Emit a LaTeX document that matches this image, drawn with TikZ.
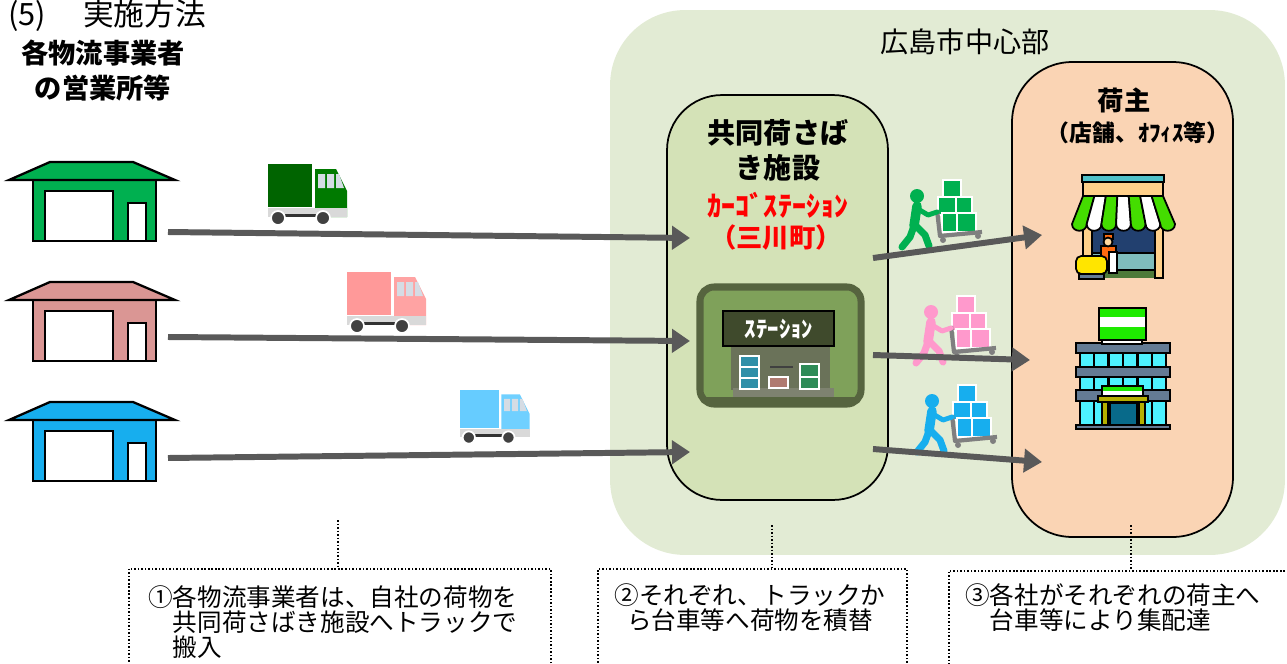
\documentclass[tikz,border=0pt]{standalone}
\usepackage{fontspec}
\setmainfont{Noto Sans CJK JP}
\usetikzlibrary{arrows.meta}
\definecolor{cityfill}{HTML}{E2EBD4}
\definecolor{hubfill}{HTML}{D4E2B7}
\definecolor{ownerfill}{HTML}{FAD4B4}
\definecolor{flowgray}{HTML}{595959}
\definecolor{depotgreen}{HTML}{00B050}
\definecolor{depotpink}{HTML}{DA9694}
\definecolor{depotblue}{HTML}{17AEEE}
\definecolor{lorrygreen}{HTML}{006400}
\definecolor{cabgreen}{HTML}{007A00}
\definecolor{lorrypink}{HTML}{FF9999}
\definecolor{cabpink}{HTML}{FFA3A3}
\definecolor{lorryblue}{HTML}{66CCFF}
\definecolor{cabblue}{HTML}{70D0FF}
\definecolor{lorrywin}{HTML}{D5DCE4}
\definecolor{porterpink}{HTML}{FF99CC}
\definecolor{trolleygray}{HTML}{7F7F7F}
\definecolor{stnedge}{HTML}{56643F}
\definecolor{stnfill}{HTML}{7FA15A}
\definecolor{stnsign}{HTML}{3F4A2C}
\definecolor{stnwall}{HTML}{6A7259}
\definecolor{stnbase}{HTML}{7E8270}
\definecolor{crateblue}{HTML}{2F8FA8}
\definecolor{craterose}{HTML}{B07A70}
\definecolor{crategreen}{HTML}{2E8B57}
\definecolor{shopteal}{HTML}{4FC1C9}
\definecolor{shopcream}{HTML}{FFD08A}
\definecolor{awning}{HTML}{44DD00}
\definecolor{shopnavy}{HTML}{22406F}
\definecolor{shopcounter}{HTML}{7FBDBD}
\definecolor{shopfloor}{HTML}{4E7A3A}
\definecolor{clerk}{HTML}{FF6A10}
\definecolor{skin}{HTML}{FFD8A0}
\definecolor{cartyellow}{HTML}{FFE500}
\definecolor{officeband}{HTML}{647B94}
\definecolor{officeglass}{HTML}{4DF2FF}
\definecolor{signgreen}{HTML}{1EEA00}
\definecolor{doorteal}{HTML}{086A8A}
\definecolor{porcholive}{HTML}{B5B000}

\begin{document}
\begin{tikzpicture}[
    x=0.02cm, y=-0.02cm,
    area/.style={fill=cityfill, rounded corners=1.5cm},
    zone/.style={draw=black, line width=1pt, rounded corners=1.1cm},
    flow/.style={-{Triangle[length=0.36cm, width=0.46cm]}, line width=3.4pt, draw=flowgray},
    memo/.style={draw=black, line width=0.9pt, dash pattern=on 0.9pt off 1.1pt},
    outline/.style={draw=black, line width=1pt},
    heading/.style={font=\fontsize{17.5}{20}\selectfont, inner sep=0pt},
    caption/.style={font=\bfseries\fontsize{15.5}{19.9}\selectfont, align=center},
    note/.style={font=\fontsize{14}{14.2}\selectfont, inner sep=0pt},
    pics/depot/.style={code={
        \draw[outline, line width=1.3pt, fill=#1] (23,18) rectangle (146,79);
        \draw[outline, line width=1.3pt, fill=#1] (-1,18) -- (40,0) -- (123,0) -- (165,18) -- cycle;
        \draw[outline, line width=1.3pt, fill=white] (35,29) rectangle (103,79);
        \draw[outline, line width=1.3pt, fill=white] (118,41) rectangle (136,79);
    }},
    pics/lorry/.style 2 args={code={
        \fill[#1] (0,0) rectangle (44,43);
        \fill[#2] (47,5) -- (68,5) -- (79,27) -- (79,53) -- (47,53) -- cycle;
        \fill[lorrywin] (50,10) rectangle (57,24) (59,10) rectangle (66,24)
            (68,10) -- (71,10) -- (76,24) -- (68,24) -- cycle;
        \fill[black!15] (0,44) rectangle (79,53);
        \fill[black!80] (14,50) rectangle (60,53);
        \draw[white, line width=1pt, fill=black!75] (10,54) circle (7) (55,54) circle (7);
    }},
    pics/porter/.style={code={
        % load on the trolley
        \foreach \xa/\ya/\xb/\yb in {73/10/91/28, 68/27/86/45, 86/27/102/45, 72/43/87/62, 87/43/106/62}
            \draw[white, line width=0.8pt, fill=#1] (\xa,\ya) rectangle (\xb,\yb);
        % trolley
        \draw[trolleygray, line width=2.4pt, line join=round] (67,40) -- (70,66) -- (112,62);
        \fill[trolleygray] (73,70) circle (3) (108,66) circle (3);
        % walker
        \fill[#1] (47,26) circle (7);
        \draw[#1, line width=5.4pt, line cap=round] (47,36) -- (44,56);
        \draw[#1, line width=2.8pt, line cap=round, line join=round] (48,39) -- (58,45) -- (67,42);
        \draw[#1, line width=4pt, line cap=round, line join=round] (44,56) -- (40,67) -- (32,77);
        \draw[#1, line width=4pt, line cap=round, line join=round] (46,56) -- (55,65) -- (59,76);
    }}
]
\useasboundingbox (0,0) rectangle (1287,663);
\clip (0,0) rectangle (1287,663);

% city centre and the two sites in it
\node[area, minimum width=13.5cm, minimum height=10.9cm] (city) at (947.5,282.5) {};
\node[zone, fill=hubfill, minimum width=4.42cm, minimum height=8.1cm] (hub) at (777.5,297.5) {};
\node[zone, fill=ownerfill, rounded corners=1.2cm, minimum width=4.42cm, minimum height=9.5cm] (owner) at (1122.5,299.5) {};

% station building
\draw[stnedge, line width=4pt, fill=stnfill, rounded corners=8pt] (700,287) rectangle (861,404);
\fill[stnwall] (731,337) rectangle (830,390);
\fill[stnbase] (733,388) rectangle (834,397);
\fill[stnedge] (702,397) rectangle (859,403);
\draw[black, line width=0.8pt, fill=stnsign] (723,311) rectangle (834,346);
\node[font=\bfseries\fontsize{13}{14}\selectfont, text=white] (stnlabel) at (779,329) {ｽﾃｰｼｮﾝ};
\foreach \ya in {356,367,378}
    \draw[white, line width=0.8pt, fill=crateblue] (740,\ya) rectangle (759,\ya+11);
\draw[white, line width=0.8pt, fill=craterose] (769,377) rectangle (788,388);
\draw[white, line width=0.8pt, fill=crategreen] (800,364) rectangle (819,377);
\draw[white, line width=0.8pt, fill=crategreen] (800,377) rectangle (819,389);
\draw[black!75, line width=1.5pt] (770,367) -- (793,367);

% shop
\fill[shopnavy] (1092,226) rectangle (1155,253);
\fill[shopcounter] (1092,253) rectangle (1155,270);
\fill[shopfloor] (1092,270) rectangle (1155,278);
\draw[black, line width=1pt] (1092,253) -- (1155,253) (1092,270) -- (1155,270);
\draw[outline, fill=shopcream] (1083,222) rectangle (1092,278);
\draw[outline, fill=shopcream] (1155,222) rectangle (1163,278);
\draw[outline, fill=shopcream] (1083,182) rectangle (1163,196);
\draw[outline, fill=shopteal] (1082,175) rectangle (1164,182);
\foreach \i/\col in {0/awning,1/white,2/awning,3/white,4/awning,5/white,6/awning} {
    \pgfmathsetmacro\tl{1083+\i*80/7}
    \pgfmathsetmacro\tr{1083+(\i+1)*80/7}
    \pgfmathsetmacro\bl{1072+\i*103/7}
    \pgfmathsetmacro\br{1072+(\i+1)*103/7}
    \draw[outline, fill=\col, line join=round] (\tl,196) -- (\bl,224)
        .. controls (\bl,233) and (\br,233) .. (\br,224) -- (\tr,196) -- cycle;
}
\draw[outline, fill=clerk] (1101,246) rectangle (1116,266);
\draw[outline, fill=white] (1109,252) rectangle (1117,273);
\draw[outline, fill=clerk] (1104,234) rectangle (1113,239);
\draw[outline, fill=skin] (1108,242) circle (4.5);
\draw[outline, fill=cartyellow, rounded corners=3pt] (1076,256) rectangle (1107,274);
\draw[outline, fill=officeband] (1079,274) rectangle (1104,279);

% office building
\fill[black] (1079,343) rectangle (1167,428);
\foreach \i in {0,...,5} {
    \pgfmathsetmacro\xa{1081+\i*14.4}
    \fill[officeglass] (\xa,353) rectangle (\xa+12,367);
    \fill[officeglass] (\xa,377) rectangle (\xa+12,390);
    \fill[officeglass] (\xa,401) rectangle (\xa+12,425);
}
\foreach \ya/\yb in {343/353, 367/377, 390/401, 425/429}
    \draw[outline, fill=officeband] (1076,\ya) rectangle (1170,\yb);
\fill[signgreen] (1099,308) rectangle (1146,317);
\fill[white] (1099,317) rectangle (1146,327);
\fill[signgreen] (1099,327) rectangle (1146,340);
\draw[outline] (1099,308) rectangle (1146,340);
\draw[outline, line width=0.8pt, fill=white] (1102,340) rectangle (1142,344);
\draw[outline, fill=porcholive] (1102,402) rectangle (1108,425);
\draw[outline, fill=porcholive] (1139,402) rectangle (1145,425);
\draw[outline, fill=doorteal] (1110,403) rectangle (1137,425);
\fill[signgreen] (1102,386) rectangle (1143,391);
\fill[white] (1102,391) rectangle (1143,396);
\draw[outline] (1102,386) rectangle (1143,396);
\draw[outline, fill=porcholive] (1098,396) rectangle (1148,402);

% carriers' depots and their trucks
\pic (depotA) at (10,162) {depot=depotgreen};
\pic (depotB) at (10,282) {depot=depotpink};
\pic (depotC) at (10,402) {depot=depotblue};
\pic (truckA) at (268,164) {lorry={lorrygreen}{cabgreen}};
\pic (truckB) at (347,272) {lorry={lorrypink}{cabpink}};
\pic[scale=0.88] (truckC) at (460,390) {lorry={lorryblue}{cabblue}};

% hand trolleys
\pic (porterA) at (870,170) {porter=depotgreen};
\pic (porterB) at (884,286) {porter=porterpink};
\pic (porterC) at (885,375) {porter=depotblue};

% flows
\coordinate (outA) at (168,232);
\coordinate (outB) at (168,337);
\coordinate (outC) at (168,458);
\coordinate (inA) at (690,238);
\coordinate (inB) at (690,341);
\coordinate (inC) at (690,452);
\coordinate (sendA) at (873,258);
\coordinate (sendB) at (873,355);
\coordinate (sendC) at (873,449);
\coordinate (dropA) at (1042,235);
\coordinate (dropB) at (1030,360);
\coordinate (dropC) at (1042,462);
\draw[flow] (outA) -- (inA);
\draw[flow] (outB) -- (inB);
\draw[flow] (outC) -- (inC);
\draw[flow] (sendA) -- (dropA);
\draw[flow] (sendB) -- (dropB);
\draw[flow] (sendC) -- (dropC);

% labels
\node[heading, anchor=west] (heading) at (8,16) {(5)\hspace{1.2em}実施方法};
\node[caption] (depots) at (103,71) {各物流事業者\\の営業所等};
\node[font=\fontsize{16}{18}\selectfont] (citylabel) at (965,42) {広島市中心部};
\node[caption, font=\bfseries\fontsize{16}{19.9}\selectfont] (hubtitle) at (778,150) {共同荷さば\\き施設};
\node[font=\bfseries\fontsize{16}{18}\selectfont, text=red] (cargo) at (778,205) {ｶｰｺﾞｽﾃｰｼｮﾝ};
\node[font=\bfseries\fontsize{15}{18}\selectfont, text=red] (hubplace) at (776,238) {（三川町）};
\node[font=\bfseries\fontsize{15}{18}\selectfont] (ownertitle) at (1124,100) {荷主};
\node[font=\bfseries\fontsize{13}{15}\selectfont] (ownersub) at (1138,133) {（店舗、ｵﾌｨｽ等）};

% step notes
\node[memo, anchor=north west, minimum width=8.44cm, minimum height=2.8cm] (memoA) at (128,568) {};
\node[memo, anchor=north west, minimum width=6.18cm, minimum height=2.8cm] (memoB) at (597,568) {};
\node[memo, anchor=north west, minimum width=7.2cm, minimum height=2.8cm] (memoC) at (948,570) {};
\coordinate (leadA) at (338,520);
\coordinate (leadB) at (772,525);
\coordinate (leadC) at (1131,525);
\draw[memo] (leadA) -- (leadA |- memoA.north);
\draw[memo] (leadB) -- (leadB |- memoB.north);
\draw[memo] (leadC) -- (leadC |- memoC.north);
\node[note, align=left, anchor=west] (noteA) at (148,622) {①各物流事業者は、自社の荷物を\\　共同荷さばき施設へトラックで\\　搬入};
\node[note, align=center] (noteB) at (750,608) {②それぞれ、トラックか\\ら台車等へ荷物を積替};
\node[note, align=left, anchor=west] (noteC) at (965,608) {③各社がそれぞれの荷主へ\\　台車等により集配達};

\end{tikzpicture}
\end{document}
